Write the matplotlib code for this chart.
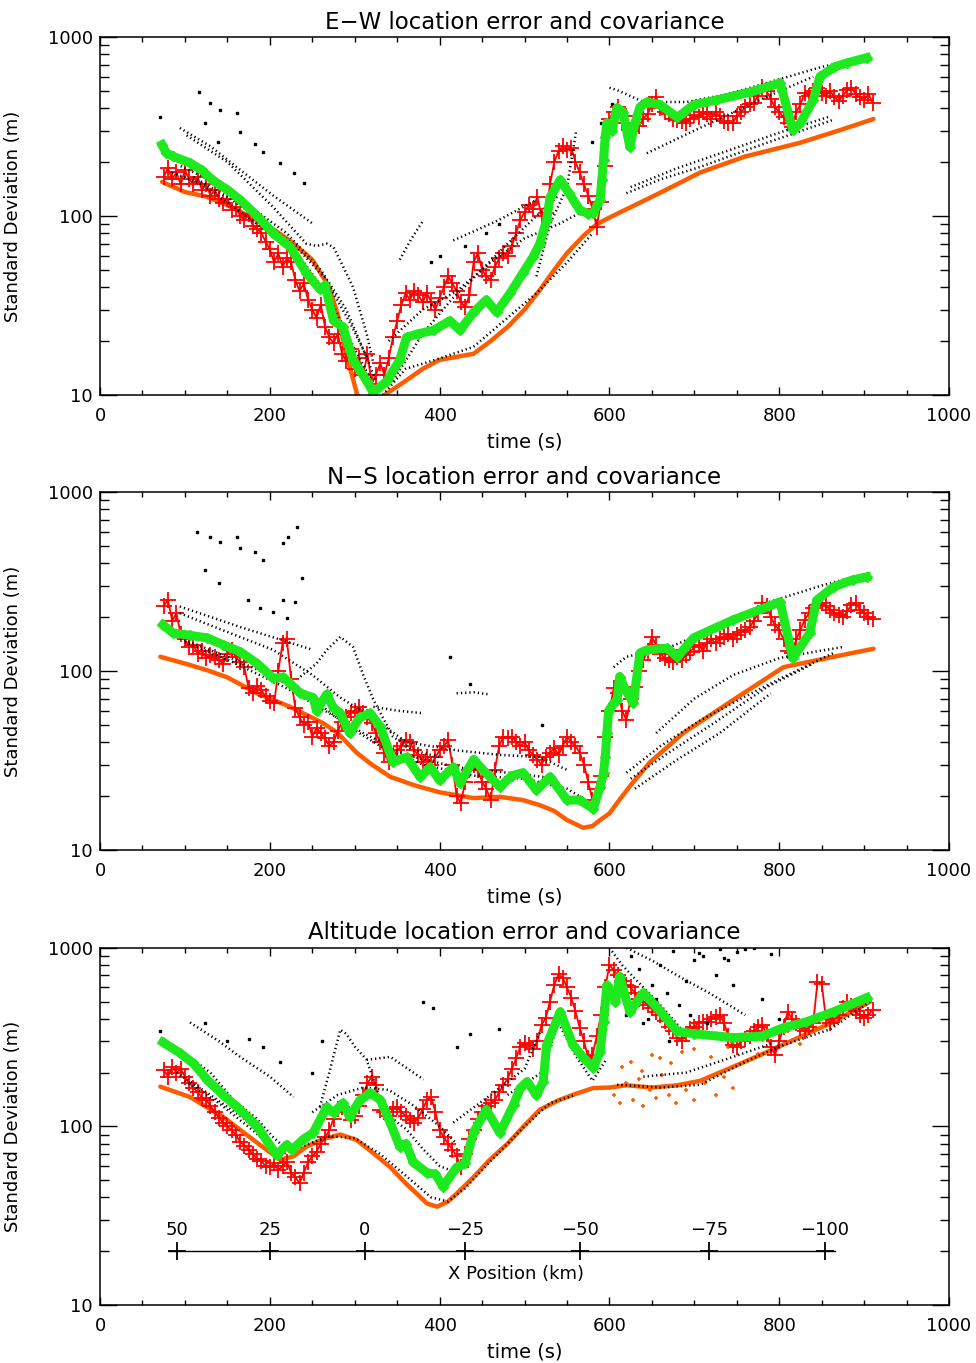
import numpy as np
import matplotlib
matplotlib.use("Agg")
import matplotlib.pyplot as plt
from matplotlib.ticker import FixedLocator, FixedFormatter, NullFormatter

plt.rcParams['font.family'] = ['DejaVu Sans']

# ---------------- E-W panel ----------------
ew_orange_t = [73, 100, 126, 150, 175, 200, 225, 250, 270, 280, 290, 303, 315, 325, 335, 360, 380, 400,
               440, 460, 480, 500, 518, 535, 550, 570, 585, 600, 630, 660, 707, 760, 824, 870, 911]
ew_orange_v = [155, 136, 128, 115, 100, 87, 72, 57, 40, 28, 17, 10, 8.5, 8.3, 10, 12, 14, 15.7,
               17, 20, 24, 30, 38.6, 50, 62, 78, 90, 98, 115, 135, 175, 215, 256, 300, 348]

ew_green_t = [73, 78, 86, 106, 120, 133, 150, 165, 185, 204, 224, 243, 259, 265, 275, 286, 298, 314, 322,
              338, 353, 361, 375, 393, 412, 424, 440, 455, 467, 483, 498, 510, 518, 526, 530, 542, 552,
              565, 575, 581, 589, 591, 593, 595, 597, 603, 609, 616, 624, 630, 636, 644, 660, 680, 699,
              726, 766, 801, 816, 825, 840, 848, 865, 880, 903]
ew_green_v = [250, 225, 215, 198, 180, 158, 140, 123, 100, 80, 67, 48, 39, 41, 26, 24, 15.7, 12, 10.3,
              12, 15.7, 21, 22, 23, 26, 23, 29, 34, 29, 37, 48, 59, 70, 95, 127, 159, 135,
              108, 103, 104, 123, 159, 205, 275, 330, 300, 403, 380, 243, 330, 406, 433, 417, 355, 417,
              444, 492, 553, 303, 330, 444, 600, 680, 716, 766]

ew_red_t = [75, 80, 85, 90, 95, 100, 105, 110, 115, 120, 125, 130, 135, 140, 145, 150, 155, 160, 165, 170,
            175, 180, 185, 190, 195, 200, 205, 210, 215, 220, 225, 230, 235, 240, 245, 250, 255, 260, 265,
            270, 275, 280, 285, 290, 295, 300, 305, 310, 315, 320, 325, 330, 335, 340, 345, 350, 355, 360,
            365, 370, 375, 380, 385, 390, 395, 400, 405, 410, 415, 420, 425, 430, 435, 440, 445, 450, 455,
            460, 465, 470, 475, 480, 485, 490, 495, 500, 505, 510, 515, 520, 525, 530, 535, 540, 545, 550,
            555, 560, 565, 570, 575, 580, 585, 590, 595, 600, 605, 610, 615, 620, 625, 630, 635, 640, 645,
            650, 655, 660, 665, 670, 675, 680, 685, 690, 695, 700, 705, 710, 715, 720, 725, 730, 735, 740,
            745, 750, 755, 760, 765, 770, 775, 780, 785, 790, 795, 800, 805, 810, 815, 820, 825, 830, 835,
            840, 845, 850, 855, 860, 865, 870, 875, 880, 885, 890, 895, 900, 905, 910]
ew_red_v = [165, 185, 160, 175, 150, 180, 160, 150, 165, 140, 150, 130, 140, 125, 118, 125, 108, 112, 100, 95,
            102, 88, 85, 80, 72, 65, 55, 62, 52, 58, 55, 44, 38, 42, 34, 30, 27, 32, 24,
            21, 19.5, 22, 17, 15.5, 18, 14, 16, 13, 17, 11.5, 13, 15, 13, 16, 21, 26, 32, 37,
            34, 38, 36, 33, 37, 33, 30, 35, 40, 46, 42, 38, 33, 31, 36, 55, 62, 50, 46,
            44, 52, 58, 62, 60, 68, 80, 95, 105, 115, 110, 128, 100, 104, 150, 200, 230, 245, 235,
            240, 200, 175, 150, 130, 110, 87, 120, 190, 350, 380, 405, 330, 360, 300, 330, 320, 350, 370,
            420, 460, 400, 380, 370, 350, 345, 340, 330, 350, 365, 356, 380, 370, 350, 380, 360, 340, 330,
            330, 360, 380, 405, 420, 430, 470, 524, 500, 450, 405, 380, 356, 330, 313, 380, 420, 485, 470,
            500, 520, 485, 470, 500, 460, 440, 470, 505, 520, 480, 460, 444, 480, 428]

ew_tracks = [
    ([94, 130, 165, 204, 250], [310, 245, 181, 130, 91]),
    ([102, 150, 204, 243, 255, 267, 275, 290, 298, 314, 322], [282, 200, 112, 70, 68, 70, 67, 48, 40, 22, 15]),
    ([85, 120, 160, 200, 240, 270, 300, 320], [175, 150, 110, 80, 55, 35, 18, 12]),
    ([95, 140, 180, 220, 260, 290, 310, 325], [190, 150, 110, 80, 50, 30, 18, 12]),
    ([110, 150, 190, 230, 265, 295, 315], [165, 128, 95, 68, 45, 25, 16]),
    ([333, 360, 400, 440, 480, 514, 550, 580], [10, 14, 16, 18.6, 27, 37, 55, 80]),
    ([345, 380, 416, 440, 480, 514, 540], [12, 22, 35, 45, 70, 100, 130]),
    ([340, 380, 420, 460, 500, 540, 575], [20, 30, 38, 55, 75, 90, 110]),
    ([353, 367, 381], [57, 75, 95]),
    ([416, 440, 470, 514], [73, 82, 95, 123]),
    ([514, 530, 550, 561], [46, 90, 145, 302]),
    ([600, 609, 640, 691, 740, 785, 850, 907], [520, 505, 433, 433, 480, 553, 680, 777]),
    ([644, 700, 785, 840], [224, 300, 463, 600]),
    ([620, 660, 707, 785, 864], [134, 160, 188, 256, 345]),
    ([625, 680, 740, 800, 860], [145, 185, 232, 292, 360]),
]
ew_dots_t = [71, 116, 124, 130, 139, 141, 161, 165, 183, 192, 212, 228, 240, 390, 400, 430, 455, 470, 580, 590, 603]
ew_dots_v = [356, 490, 330, 427, 258, 390, 376, 295, 252, 228, 198, 174, 153, 55, 60, 68, 80, 90, 260, 330, 420]

# ---------------- N-S panel ----------------
ns_orange_t = [71, 100, 126, 150, 185, 224, 263, 280, 302, 320, 342, 370, 400, 440, 471, 498, 518, 535,
               550, 569, 580, 589, 600, 609, 625, 648, 687, 746, 805, 864, 911]
ns_orange_v = [120, 110, 101, 92, 75, 63, 51, 45, 35, 30, 25.6, 23, 21, 19.5, 19.8, 19, 17.8, 16.5,
               14.7, 13.3, 13.6, 14.7, 16, 18.3, 23, 31, 45, 69, 105, 120, 133]

ns_green_t = [74, 86, 106, 126, 145, 165, 185, 204, 216, 224, 236, 251, 255, 267, 275, 283, 294, 306, 318,
              330, 345, 361, 377, 389, 400, 416, 424, 440, 451, 471, 485, 498, 514, 530, 550, 565, 581,
              589, 593, 595, 597, 599, 605, 609, 612, 618, 628, 636, 644, 668, 680, 699, 746, 801, 813,
              816, 836, 844, 864, 887, 903]
ns_green_v = [181, 163, 158, 153, 140, 128, 110, 91, 92, 85, 75, 71, 60, 74, 62, 58, 45, 55, 58,
              49, 31, 33, 25.6, 29, 24.5, 29, 23.6, 32, 28, 22.5, 26, 27, 21.6, 25.6, 19, 19, 17,
              22.5, 27, 33, 45, 60, 66, 69, 93, 80, 66, 126, 131, 134, 120, 153, 193, 243, 136,
              118, 163, 248, 295, 323, 335]

ns_red_t = ew_red_t
ns_red_v = [230, 250, 190, 210, 160, 150, 136, 140, 125, 130, 118, 122, 120, 115, 110, 125, 131, 120, 112, 105,
            80, 75, 82, 78, 72, 68, 66, 100, 143, 150, 90, 62, 55, 50, 52, 43, 48, 45, 42,
            38, 40, 46, 52, 55, 58, 60, 63, 58, 55, 51, 45, 40, 35, 31, 33, 36, 38, 41,
            40, 36, 34, 31, 33, 30, 33, 36, 38, 41, 30, 20, 18.3, 24, 28, 30, 28, 24, 22,
            19, 28, 38, 43, 42, 43, 40, 38, 40, 36, 34, 32, 30, 33, 35, 37, 34, 38, 43,
            40, 38, 35, 30, 24, 19, 22, 26, 43, 60, 80, 75, 60, 53, 70, 81, 100, 115, 130,
            155, 140, 125, 118, 115, 112, 120, 115, 122, 128, 136, 140, 130, 143, 150, 143, 150, 155, 160,
            150, 158, 165, 169, 175, 190, 210, 240, 230, 200, 180, 169, 150, 130, 126, 150, 170, 193, 210,
            225, 235, 240, 230, 220, 210, 205, 200, 215, 235, 240, 220, 210, 200, 195]

ns_tracks = [
    ([94, 165, 251], [229, 176, 131]),
    ([94, 150, 204, 250, 283, 320, 361, 420, 470, 518, 550], [210, 165, 131, 95, 71, 55, 40, 36, 34, 33, 28]),
    ([236, 255, 267, 283, 298, 310, 322, 345, 369, 400], [93, 110, 131, 155, 136, 95, 69, 43, 36, 33]),
    ([90, 150, 200, 250, 290, 330, 380, 440, 500, 550, 580], [155, 120, 95, 70, 50, 38, 30, 26, 25, 22, 18]),
    ([100, 160, 220, 270, 310, 360, 420, 480, 540], [145, 110, 80, 58, 45, 34, 29, 27, 25]),
    ([322, 350, 381], [63, 60, 58]),
    ([420, 440, 458], [75, 76, 74]),
    ([605, 620, 668, 720, 785, 850, 907], [105, 120, 134, 170, 240, 300, 355]),
    ([655, 700, 746, 800, 850, 875], [45, 70, 95, 118, 130, 136]),
    ([620, 660, 707, 760, 800, 864], [27, 38, 53, 72, 90, 126]),
    ([625, 670, 720, 785, 840], [25, 35, 50, 81, 110]),
    ([630, 680, 730, 790], [22, 32, 45, 75]),
]
ns_dots_t = [114, 124, 130, 140, 141, 161, 165, 174, 183, 188, 192, 204, 216, 216, 220, 221, 230, 232, 238, 412, 436, 520, 600]
ns_dots_v = [597, 366, 560, 310, 525, 560, 486, 250, 460, 224, 417, 213, 520, 250, 198, 560, 243, 637, 331, 120, 85, 50, 55]

# ---------------- Altitude panel ----------------
al_orange_t = [71, 106, 145, 185, 212, 228, 243, 263, 283, 302, 320, 342, 360, 373, 385, 397, 410, 420,
               440, 459, 480, 498, 518, 540, 560, 581, 600, 620, 650, 680, 707, 740, 785, 820, 864, 907]
al_orange_v = [167, 146, 113, 81, 65, 68, 77, 85, 90, 84, 72, 59, 48, 42, 37, 35.5, 38, 42,
               52, 65, 80, 99, 124, 140, 152, 164, 165, 170, 165, 170, 180, 210, 260, 310, 385, 500]
al_ocloud_t = [605, 612, 620, 628, 635, 640, 648, 655, 662, 670, 678, 690, 700, 712, 725, 735, 745,
               615, 625, 638, 650, 660, 672, 685, 700, 720, 740, 760, 775, 790, 810, 825]
al_ocloud_v = [150, 135, 175, 140, 185, 130, 160, 145, 195, 150, 135, 160, 140, 175, 150, 190, 165,
               215, 230, 205, 250, 240, 225, 260, 270, 245, 280, 300, 255, 330, 340, 290]

al_green_t = [74, 94, 110, 126, 145, 165, 185, 208, 220, 226, 240, 251, 267, 275, 286, 294, 306, 318, 330,
              340, 353, 360, 369, 385, 395, 404, 420, 430, 440, 455, 471, 487, 495, 503, 514, 522, 526,
              542, 557, 570, 581, 589, 593, 597, 603, 607, 612, 624, 640, 660, 680, 700, 746, 780, 805,
              832, 864, 903]
al_green_v = [296, 258, 225, 183, 150, 124, 100, 69, 79, 74, 85, 92, 128, 119, 135, 113, 140, 154, 141,
              110, 77, 80, 63, 55, 54, 46, 59, 62, 93, 124, 92, 132, 164, 178, 150, 178, 286,
              438, 286, 240, 213, 262, 385, 617, 560, 498, 690, 438, 560, 440, 340, 330, 314, 320, 357,
              385, 438, 526]

al_red_t = ew_red_t
al_red_v = [208, 190, 215, 200, 210, 190, 175, 165, 155, 145, 141, 130, 120, 112, 105, 100, 95, 90, 82, 78,
            74, 70, 66, 64, 60, 59, 62, 57, 60, 63, 55, 52, 48, 55, 63, 68, 72, 80, 87,
            95, 110, 125, 129, 120, 108, 115, 130, 150, 175, 190, 170, 124, 120, 115, 125, 129, 120, 115,
            108, 105, 112, 125, 140, 146, 120, 95, 87, 80, 74, 68, 59, 70, 85, 96, 110, 120, 130,
            135, 140, 155, 170, 185, 210, 240, 280, 294, 286, 270, 300, 370, 405, 500, 620, 710, 680, 600,
            526, 440, 357, 300, 243, 250, 320, 420, 600, 800, 750, 700, 650, 620, 600, 560, 520, 500, 480,
            460, 438, 420, 390, 360, 340, 314, 300, 330, 350, 360, 380, 385, 385, 400, 410, 420, 380, 320,
            286, 280, 300, 310, 320, 340, 360, 370, 330, 280, 252, 300, 360, 438, 400, 380, 357, 340, 360,
            380, 645, 630, 400, 380, 405, 420, 460, 500, 470, 440, 420, 405, 420, 450]

al_tracks = [
    ([106, 140, 165, 200, 228], [382, 300, 245, 190, 146]),
    ([94, 130, 157, 185, 204, 215], [268, 200, 141, 110, 87, 78]),
    ([90, 130, 170, 200, 215, 240, 270, 300, 330, 360, 390, 410, 430, 460, 500, 530, 560],
     [200, 150, 110, 80, 70, 78, 88, 86, 70, 53, 40, 38, 45, 64, 100, 135, 150]),
    ([100, 140, 180, 210], [180, 135, 95, 72]),
    ([259, 270, 283, 290, 300, 314, 330, 345, 361, 380, 400, 420],
     [129, 200, 348, 330, 280, 236, 141, 110, 96, 75, 60, 55]),
    ([314, 342, 381], [236, 245, 183]),
    ([250, 280, 310, 340, 370, 400, 420], [120, 150, 165, 160, 130, 100, 80]),
    ([416, 460, 500, 518], [105, 150, 210, 335]),
    ([480, 520, 540, 560, 580, 597], [150, 200, 380, 250, 180, 240]),
    ([600, 615, 640, 665, 687, 700], [1000, 800, 600, 450, 340, 320]),
    ([620, 650, 680, 720, 760], [1000, 850, 700, 550, 420]),
    ([609, 660, 707, 760, 800, 860, 907], [171, 165, 171, 230, 280, 350, 500]),
    ([640, 690, 740, 790], [190, 200, 240, 290]),
]
al_dots_t = [71, 124, 150, 175, 192, 212, 250, 262, 380, 392, 420, 436, 470, 620, 640, 655, 670, 690, 710,
             730, 750, 770, 790, 660, 700, 745, 780, 800, 610, 625, 635, 650, 668, 682, 695, 715, 725,
             740, 760, 605, 630, 645, 675, 705, 735]
al_dots_v = [340, 380, 300, 310, 280, 230, 200, 300, 500, 460, 280, 330, 350, 420, 380, 520, 300, 650, 900,
             980, 950, 1000, 920, 800, 850, 620, 520, 400, 700, 900, 760, 620, 560, 480, 420, 380, 700,
             850, 980, 560, 480, 400, 960, 940, 880]

# X position scale (km) drawn in the altitude panel
xpos_km = [50, 25, 0, -25, -50, -75, -100]
xpos_time = [91, 200, 312, 430, 565, 717, 854]
xpos_line_t = [81, 866]
xpos_level = 20

titles = ['E\u2212W location error and covariance',
          'N\u2212S location error and covariance',
          'Altitude location error and covariance']

ORANGE = '#ff5c00'
RED = '#ff0000'
GREEN = '#1ee81e'

fig = plt.figure(figsize=(9.76, 13.63), dpi=100)
boxes = [[0.1025, 0.7102, 0.8699, 0.2627],
         [0.1025, 0.3764, 0.8699, 0.2627],
         [0.1025, 0.0426, 0.8699, 0.2620]]

panels = [
    (ew_orange_t, ew_orange_v, ew_red_t, ew_red_v, ew_green_t, ew_green_v, ew_tracks, ew_dots_t, ew_dots_v),
    (ns_orange_t, ns_orange_v, ns_red_t, ns_red_v, ns_green_t, ns_green_v, ns_tracks, ns_dots_t, ns_dots_v),
    (al_orange_t, al_orange_v, al_red_t, al_red_v, al_green_t, al_green_v, al_tracks, al_dots_t, al_dots_v),
]

for i, (ot, ov, rt, rv, gt, gv, tracks, dt, dv) in enumerate(panels):
    ax = fig.add_axes(boxes[i])
    ax.set_yscale('log')
    ax.set_xlim(0, 1000)
    ax.set_ylim(10, 1000)

    ax.plot(ot, ov, '-', color=ORANGE, lw=3.2, solid_capstyle='round')
    if i == 2:
        ax.plot(al_ocloud_t, al_ocloud_v, '+', color=ORANGE, ms=3.5, mew=1.2, ls='none')
    ax.plot(rt, rv, '-', color=RED, lw=1.3)
    ax.plot(rt, rv, '+', color=RED, ms=12, mew=1.3, ls='none')
    for tt, vv in tracks:
        ax.plot(tt, vv, color='black', lw=1.8, ls=(0, (0.5, 1.2)))
    ax.plot(dt, dv, 's', color='black', ms=1.8, ls='none')
    ax.plot(gt, gv, '-', color=GREEN, lw=6.5, solid_joinstyle='round')
    ax.plot(gt, gv, 'D', color=GREEN, ms=5.5, ls='none')

    if i == 2:
        ax.plot(xpos_line_t, [xpos_level, xpos_level], '-', color='black', lw=1.0)
        ax.plot(xpos_time, [xpos_level] * len(xpos_time), '+', color='black', ms=13, mew=1.3, ls='none')
        for km, tt in zip(xpos_km, xpos_time):
            lab = str(km).replace('-', '\u2212')
            ax.annotate(lab, (tt, xpos_level), xytext=(0, 9), textcoords='offset points',
                        ha='center', va='bottom', fontsize=13)
        ax.annotate('X Position (km)', (490, xpos_level), xytext=(0, -10), textcoords='offset points',
                    ha='center', va='top', fontsize=13)

    ax.xaxis.set_major_locator(FixedLocator([0, 200, 400, 600, 800, 1000]))
    ax.xaxis.set_minor_locator(FixedLocator([50, 100, 150, 250, 300, 350, 450, 500, 550, 650, 700,
                                             750, 850, 900, 950]))
    ax.yaxis.set_major_locator(FixedLocator([10, 100, 1000]))
    ax.yaxis.set_major_formatter(FixedFormatter(['10', '100', '1000']))
    ax.yaxis.set_minor_locator(FixedLocator([20, 30, 40, 50, 60, 70, 80, 90,
                                             200, 300, 400, 500, 600, 700, 800, 900]))
    ax.yaxis.set_minor_formatter(NullFormatter())
    ax.tick_params(axis='x', which='major', direction='in', length=6, width=1, top=True,
                   labelsize=13, pad=9)
    ax.tick_params(axis='x', which='minor', direction='in', length=3.5, width=1, top=True)
    ax.tick_params(axis='y', which='major', direction='in', length=12, width=1, right=True,
                   labelsize=13, pad=5)
    ax.tick_params(axis='y', which='minor', direction='in', length=6.5, width=1, right=True)
    for s in ax.spines.values():
        s.set_linewidth(1.1)

    ax.set_title(titles[i], fontsize=16.5, pad=6)
    ax.set_xlabel('time (s)', fontsize=14, labelpad=5)
    ax.set_ylabel('Standard Deviation (m)', fontsize=13)
    ax.yaxis.set_label_coords(-0.092, 0.5)

fig.savefig('out.png', dpi=100)
